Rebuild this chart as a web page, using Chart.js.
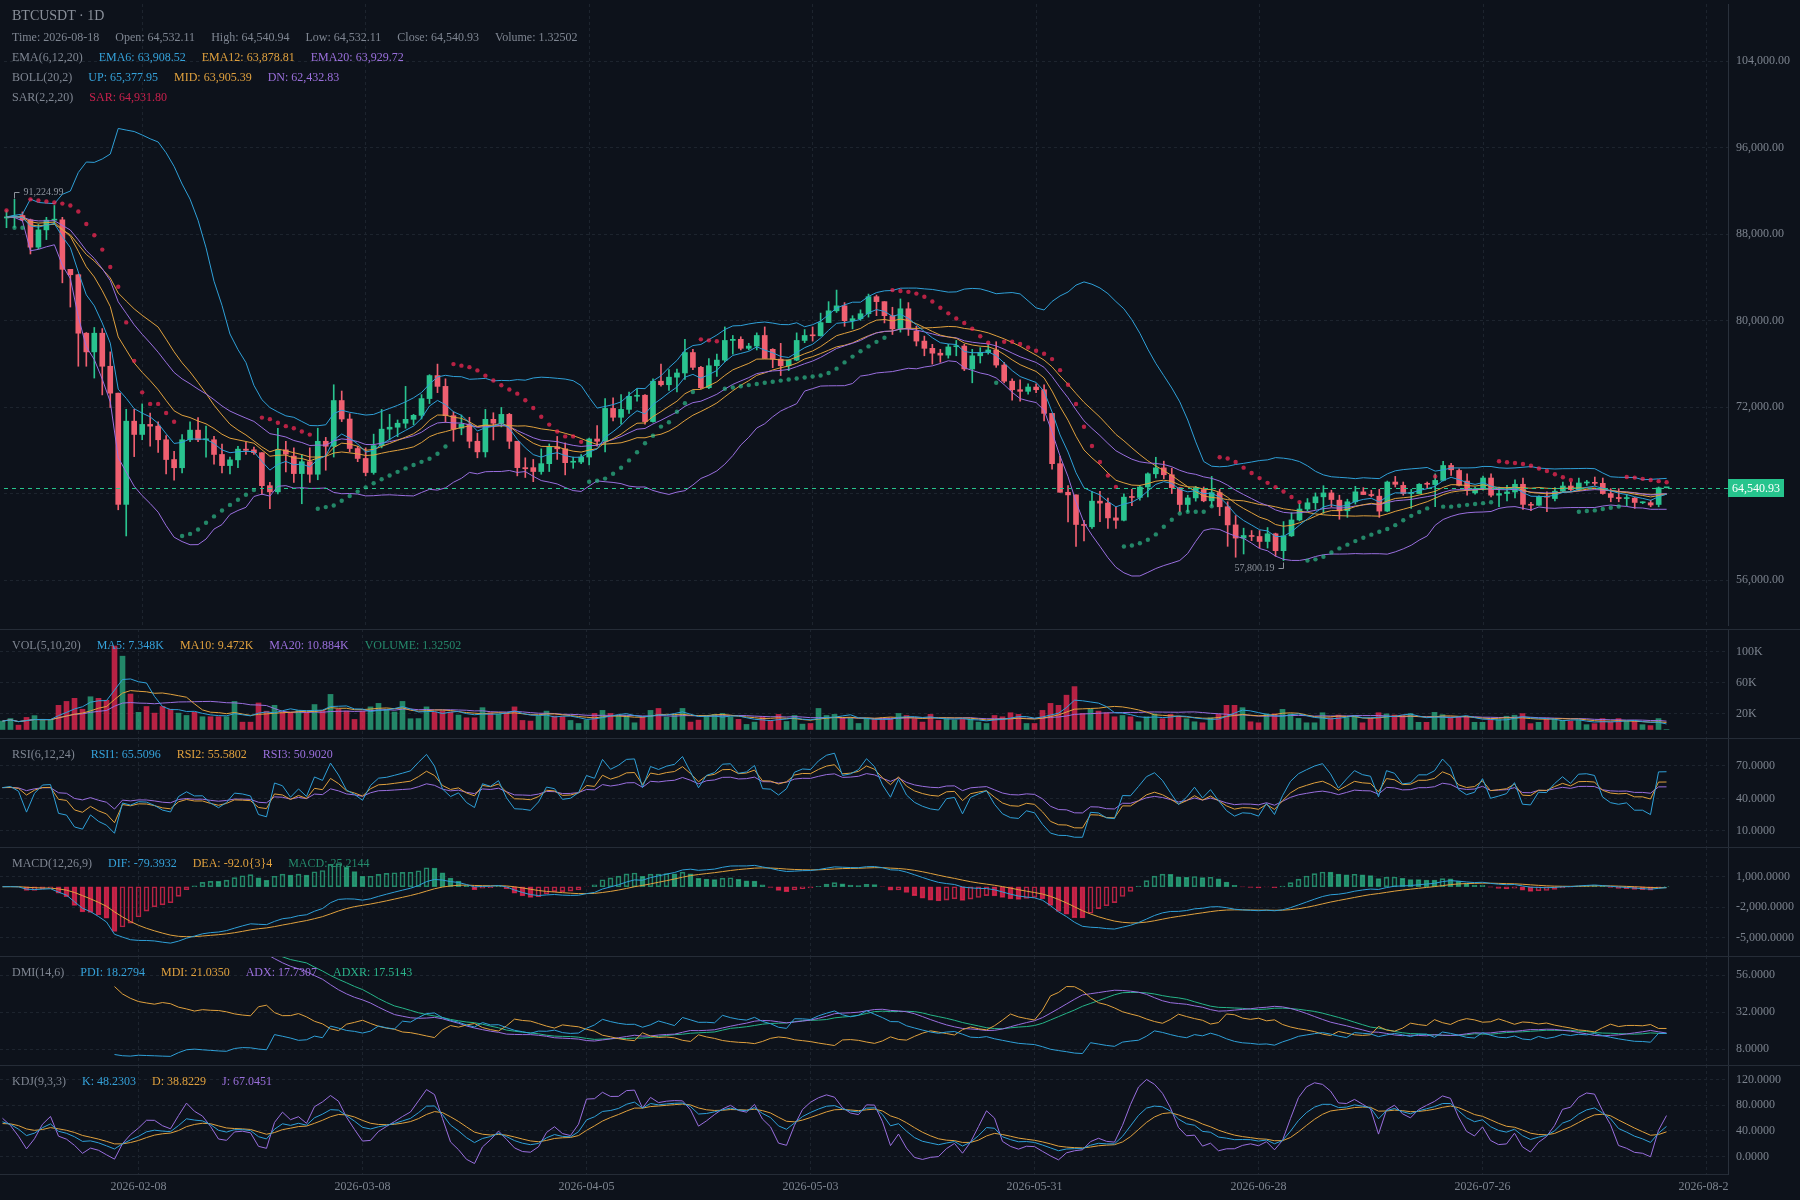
<!DOCTYPE html>
<html>
<head>
<meta charset="utf-8">
<title>BTCUSDT · 1D</title>
<script src="https://cdn.jsdelivr.net/npm/chart.js@4.4.1/dist/chart.umd.min.js"></script>
<style>
  html, body { margin: 0; padding: 0; background: #0d121b; }
  #wrap { position: relative; width: 1800px; height: 1200px; overflow: hidden; background: #0d121b; font-family: "Liberation Serif", serif; }
  canvas { position: absolute; left: 0; }
  .sep { position: absolute; left: 0; width: 1800px; height: 1px; background: #252c37; }
  .lg { position: absolute; left: 12px; height: 20px; line-height: 20px; font-size: 12px; color: #7f8692; white-space: nowrap; }
  .lg span { margin-right: 16px; }
  .b { color: #35a2da; } .o { color: #e0a13e; } .p { color: #9b70dd; } .r { color: #c9214d; } .g { color: #25896b; } .t { color: #2ab58b; }
</style>
</head>
<body>
<div id="wrap">
  <canvas id="cMain" width="1800" height="629" style="top:0"></canvas>
  <canvas id="cVol" width="1800" height="109" style="top:629px"></canvas>
  <canvas id="cRsi" width="1800" height="109" style="top:738px"></canvas>
  <canvas id="cMacd" width="1800" height="109" style="top:847px"></canvas>
  <canvas id="cDmi" width="1800" height="109" style="top:956px"></canvas>
  <canvas id="cKdj" width="1800" height="135" style="top:1065px"></canvas>

  <div class="sep" style="top:629px"></div>
  <div class="sep" style="top:738px"></div>
  <div class="sep" style="top:847px"></div>
  <div class="sep" style="top:956px"></div>
  <div class="sep" style="top:1065px"></div>
  <div class="sep" style="top:1174px;width:1728px"></div>

  <div class="lg" style="top:6px;font-size:14px;color:#8a909a">BTCUSDT · 1D</div>
  <div class="lg" style="top:27px"><span>Time: 2026-08-18</span><span>Open: 64,532.11</span><span>High: 64,540.94</span><span>Low: 64,532.11</span><span>Close: 64,540.93</span><span>Volume: 1.32502</span></div>
  <div class="lg" style="top:47px"><span>EMA(6,12,20)</span><span class="b">EMA6: 63,908.52</span><span class="o">EMA12: 63,878.81</span><span class="p">EMA20: 63,929.72</span></div>
  <div class="lg" style="top:67px"><span>BOLL(20,2)</span><span class="b">UP: 65,377.95</span><span class="o">MID: 63,905.39</span><span class="p">DN: 62,432.83</span></div>
  <div class="lg" style="top:87px"><span>SAR(2,2,20)</span><span class="r">SAR: 64,931.80</span></div>

  <div class="lg" style="top:635px"><span>VOL(5,10,20)</span><span class="b">MA5: 7.348K</span><span class="o">MA10: 9.472K</span><span class="p">MA20: 10.884K</span><span class="g">VOLUME: 1.32502</span></div>
  <div class="lg" style="top:744px"><span>RSI(6,12,24)</span><span class="b">RSI1: 65.5096</span><span class="o">RSI2: 55.5802</span><span class="p">RSI3: 50.9020</span></div>
  <div class="lg" style="top:853px"><span>MACD(12,26,9)</span><span class="b">DIF: -79.3932</span><span class="o">DEA: -92.0{3}4</span><span class="g">MACD: 25.2144</span></div>
  <div class="lg" style="top:962px"><span>DMI(14,6)</span><span class="b">PDI: 18.2794</span><span class="o">MDI: 21.0350</span><span class="p">ADX: 17.7307</span><span class="t">ADXR: 17.5143</span></div>
  <div class="lg" style="top:1071px"><span>KDJ(9,3,3)</span><span class="b">K: 48.2303</span><span class="o">D: 38.8229</span><span class="p">J: 67.0451</span></div>
</div>

<script>
// daily candles, first one is 2026-01-22
const startDay = '2026-01-22';
const dayCount = 216;

const opens = [
  89500, 89600, 89730, 89330, 86800, 88400, 89300, 89330, 84750, 84250,
  78840, 77110, 78840, 75780, 73290, 63000, 70700, 69470, 70400, 70240,
  68980, 67150, 66390, 68980, 69870, 68980, 68980, 67620, 66590, 67120,
  68110, 68050, 67780, 64730, 64160, 68050, 67470, 65850, 66950, 65790,
  68840, 68380, 72610, 70900, 68170, 67250, 65950, 68440, 69960, 70140,
  70510, 70870, 71240, 72790, 74920, 73920, 71210, 70050, 70420, 68840,
  67860, 70870, 70510, 71330, 68840, 66400, 66400, 66040, 66770, 68320,
  68140, 66900, 66920, 67380, 69050, 68840, 71880, 71060, 71790, 73000,
  73100, 70660, 74400, 74070, 74770, 75160, 77050, 75680, 73800, 75830,
  76350, 78170, 78270, 77440, 77650, 78630, 77350, 76440, 75830, 76350,
  78170, 78660, 78600, 79820, 80910, 81370, 80000, 80180, 80640, 82220,
  81760, 80460, 79240, 81100, 79030, 78110, 77440, 76990, 76810, 77590,
  77650, 75530, 76750, 77050, 77290, 75890, 74400, 73610, 73460, 73860,
  73610, 71420, 66770, 64120, 63880, 61140, 60930, 63300, 63120, 61750,
  61530, 63700, 63640, 64610, 65830, 66380, 65740, 64550, 62990, 63600,
  64370, 63330, 64090, 62780, 61100, 59880, 60060, 60030, 59570, 60280,
  58720, 60090, 61560, 62570, 63150, 63700, 64060, 63390, 62410, 63240,
  64160, 63880, 63760, 62380, 65070, 64760, 64000, 64000, 64920, 64830,
  65220, 66600, 66140, 65160, 64060, 64400, 65440, 63850, 64000, 64150,
  64860, 63000, 62920, 63700, 63540, 64220, 64700, 64370, 64980, 65010,
  64950, 64000, 63640, 63540, 63580, 63150, 63150, 62990, 64532.11
];
const highs = [
  90200, 91224.99, 90060, 89400, 88900, 89560, 90660, 89560, 84750, 84300,
  78900, 79370, 79270, 77110, 73300, 71800, 71800, 72300, 71460, 70640,
  69370, 67920, 69470, 70640, 71030, 70240, 69300, 68580, 67380, 68380,
  68740, 68300, 67800, 65050, 70040, 68840, 68230, 67620, 68230, 70050,
  69200, 74070, 73490, 71390, 68380, 68230, 69500, 71790, 71330, 70810,
  73920, 71330, 73160, 75000, 75980, 74620, 71570, 71270, 71060, 69600,
  71790, 71480, 71970, 71420, 68840, 67310, 67160, 68140, 68590, 69290,
  68690, 67380, 67620, 69140, 70300, 72790, 72850, 73160, 73400, 73700,
  73160, 74620, 75980, 75470, 75530, 78270, 77350, 75770, 76500, 76900,
  79420, 78630, 78510, 77900, 78870, 79420, 77410, 77900, 76380, 78870,
  79180, 79420, 80700, 81760, 82830, 81670, 80460, 81000, 82460, 82370,
  81760, 81240, 82010, 81670, 79480, 78570, 77810, 77350, 77810, 78170,
  77810, 77350, 77500, 77810, 78050, 76140, 74620, 74530, 74160, 74160,
  74070, 71420, 67470, 64730, 63880, 61530, 64180, 64210, 63580, 62760,
  63970, 64400, 64760, 65920, 67360, 67000, 66350, 64550, 63850, 64670,
  64610, 65590, 64400, 63240, 61960, 60800, 60580, 60580, 60860, 60340,
  61410, 62230, 63090, 63540, 64060, 64730, 64310, 63850, 63480, 64670,
  64550, 64310, 64400, 65160, 65590, 65070, 64400, 64920, 65070, 65830,
  66990, 66810, 66290, 65830, 64610, 65620, 65830, 64610, 64760, 65280,
  65440, 63180, 63790, 64160, 64550, 65070, 65070, 65440, 65220, 65530,
  65440, 64460, 64460, 63910, 63640, 63240, 63390, 64610, 64540.94
];
const lows = [
  88600, 88630, 89230, 86170, 86640, 87500, 88900, 83500, 81260, 75780,
  75780, 74690, 73130, 71960, 62500, 60080, 67420, 68980, 68380, 67800,
  65820, 65250, 65920, 68800, 68800, 67380, 66720, 65920, 65820, 66390,
  67620, 67620, 63900, 62600, 63980, 66000, 65030, 63060, 65030, 65280,
  66160, 67380, 70660, 67860, 66950, 65640, 65790, 68230, 68960, 69260,
  70050, 70360, 70900, 72330, 73340, 70600, 68840, 69440, 68230, 67310,
  67380, 68960, 70170, 68170, 65640, 65490, 65100, 65790, 66040, 67160,
  65730, 66340, 66770, 66650, 68380, 67860, 70720, 70420, 71420, 72550,
  70420, 70600, 73950, 73550, 73400, 74560, 75470, 73700, 73700, 74830,
  76200, 76900, 77290, 77290, 77290, 76500, 75650, 74920, 75380, 76290,
  77960, 78110, 78570, 79820, 80760, 79480, 79240, 80030, 80330, 80460,
  79790, 78720, 78940, 78630, 77660, 76750, 75980, 76140, 76530, 76750,
  75380, 74250, 76080, 76900, 75680, 74250, 72640, 72550, 73190, 73340,
  70720, 66250, 64120, 61380, 59100, 59630, 60780, 61390, 60780, 60780,
  61470, 62870, 63390, 63700, 65440, 65380, 64000, 62320, 62320, 63300,
  63240, 62840, 61960, 59120, 58110, 58410, 59640, 58960, 58960, 58200,
  57800.19, 60030, 61470, 62380, 62540, 62170, 62780, 61620, 61800, 63030,
  63910, 63700, 61800, 62320, 64610, 63850, 62630, 63990, 64460, 62790,
  65160, 65680, 64700, 63850, 63940, 64310, 63700, 62780, 63330, 63610,
  62540, 62420, 62910, 62320, 63330, 64160, 64220, 64250, 64760, 64760,
  63940, 63240, 63240, 62870, 62630, 63060, 62780, 62780, 64532.11
];
const closes = [
  89600, 89700, 89330, 86800, 88400, 89300, 89350, 84750, 84250, 78840,
  77110, 78840, 75780, 73290, 63000, 70700, 69470, 70400, 70240, 68980,
  67150, 66390, 68980, 69870, 68980, 69000, 67620, 66590, 67120, 68110,
  68000, 67780, 64730, 64160, 68050, 67650, 65850, 66950, 65790, 68840,
  68380, 72610, 70900, 68170, 67250, 65950, 68440, 69960, 70140, 70510,
  70870, 71240, 72790, 74920, 73920, 71210, 69960, 70420, 68840, 67860,
  70870, 70510, 71330, 68840, 66400, 66300, 66040, 66770, 68320, 68140,
  66860, 66950, 67380, 69050, 68840, 71880, 71060, 71790, 73000, 73100,
  70660, 74400, 74070, 74770, 75160, 77050, 75680, 73800, 75830, 76350,
  78170, 78270, 77440, 77650, 78630, 76500, 76440, 75830, 76350, 78170,
  78630, 78600, 79820, 80910, 81370, 80000, 80180, 80640, 82220, 81760,
  80460, 79240, 81100, 79240, 78110, 77440, 76990, 76810, 77570, 77650,
  75530, 76750, 77050, 77290, 75890, 74400, 73610, 73460, 73860, 73610,
  71420, 66770, 64120, 63880, 61140, 61050, 63300, 63120, 61750, 61530,
  63670, 63640, 64610, 65830, 66380, 65740, 64550, 62990, 63600, 64550,
  63330, 64090, 62780, 61100, 59880, 60120, 60030, 59570, 60280, 58720,
  60090, 61560, 62570, 63150, 63700, 64060, 63450, 62410, 63240, 64160,
  63910, 63820, 62380, 65070, 64860, 64000, 64090, 64860, 64860, 65220,
  66600, 66200, 64760, 64310, 64460, 65440, 63850, 64000, 64150, 64860,
  63000, 62920, 63700, 63670, 64220, 64700, 64370, 64980, 65010, 64950,
  64000, 63640, 63540, 63580, 63180, 63180, 62940, 64532.11, 64540.93
];
const volumes = [
  10800, 14000, 5600, 15500, 17800, 11700, 13000, 31000, 36000, 40000,
  26000, 42000, 40000, 37500, 107000, 94000, 45500, 22000, 29500, 21000,
  29500, 26000, 21000, 18000, 22000, 16400, 16400, 16400, 16400, 36000,
  9400, 9400, 34000, 23500, 31000, 22500, 21500, 24500, 21500, 32000,
  24500, 45000, 26000, 23600, 12900, 23600, 29000, 33500, 26000, 22400,
  36000, 13800, 14000, 29000, 22400, 23600, 22400, 18500, 15000, 15000,
  28000, 21500, 19400, 21500, 29000, 11600, 10800, 17200, 23600, 17200,
  16500, 11600, 7700, 12000, 20600, 24500, 20600, 18000, 18000, 8600,
  16300, 24500, 27000, 16000, 18500, 27000, 9500, 12000, 18000, 19400,
  20600, 16000, 13000, 6500, 9500, 16300, 11600, 19400, 10300, 18000,
  6900, 7700, 27000, 18000, 19400, 15000, 15000, 7700, 14200, 13000,
  15000, 15000, 20600, 18000, 13800, 9500, 19400, 11600, 13800, 12000,
  13000, 13000, 9500, 7700, 18000, 16300, 21500, 19400, 7700, 7700,
  24500, 33500, 31000, 44000, 55000, 20600, 26000, 23600, 21500, 16300,
  18000, 16300, 9900, 16300, 20000, 13800, 19400, 17200, 13800, 9900,
  8600, 15000, 19400, 31000, 31000, 28000, 9900, 8600, 20000, 20000,
  25800, 20000, 14200, 8600, 8600, 21500, 15000, 18500, 15000, 18000,
  8600, 15000, 21500, 20000, 18500, 18400, 20400, 9200, 9200, 22000,
  19000, 16000, 16000, 16000, 9200, 9200, 14000, 12700, 17000, 18300,
  20400, 7500, 9200, 14800, 13500, 11800, 10500, 11800, 6200, 7500,
  14000, 9200, 14000, 10500, 10500, 6200, 5000, 14000, 1.32502
];

const tickDates = ['2026-02-08', '2026-03-08', '2026-04-05', '2026-05-03', '2026-05-31', '2026-06-28', '2026-07-26', '2026-08-23'];
const priceTicks = [56000, 64000, 72000, 80000, 88000, 96000, 104000];
const volTicks = [20000, 60000, 100000];
const rsiTicks = [10, 40, 70];
const macdTicks = [-5000, -2000, 1000];
const dmiTicks = [8, 32, 56];
const kdjTicks = [0, 40, 80, 120];

// ---- look
const UP = '#29c38f', DOWN = '#ef5f70';
const UP_DIM = 'rgba(45,192,142,0.68)', DOWN_DIM = 'rgba(249,40,85,0.72)';
const BLUE = '#2fa0d8', ORANGE = '#e0a13e', PURPLE = '#9a6fdf', TEAL = '#26b589';
const GRID = '#1d242e', AXIS = '#2a313c', TXT = '#7c838e', MARK = '#8d939c';
const PRICE_GREEN = '#26c48d';

Chart.defaults.font.family = '"Liberation Serif", serif';
Chart.defaults.font.size = 12;
Chart.defaults.color = TXT;

const N = closes.length;
const idx = closes.map((_, i) => i);
const t0 = Date.parse(startDay + 'T00:00:00Z');
const dates = Array.from({ length: dayCount }, (_, i) => new Date(t0 + i * 864e5).toISOString().slice(0, 10));
const tickIdx = tickDates.map(d => dates.indexOf(d));

// ---- indicators from the candles
function sma(arr, n) {
  return arr.map((_, i) => {
    const s = Math.max(0, i - n + 1);
    let t = 0;
    for (let k = s; k <= i; k++) t += arr[k];
    return t / (i - s + 1);
  });
}
function ema(arr, n) {
  let e = arr[0];
  return arr.map((v, i) => (e = i === 0 ? v : (2 * v + (n - 1) * e) / (n + 1)));
}

const ema6 = ema(closes, 6), ema12 = ema(closes, 12), ema20 = ema(closes, 20);

const bollMid = sma(closes, 20);
const bollUp = [], bollDn = [];
closes.forEach((_, i) => {
  const s = Math.max(0, i - 19);
  let v = 0;
  for (let k = s; k <= i; k++) v += (closes[k] - bollMid[i]) ** 2;
  const sd = Math.sqrt(v / (i - s + 1));
  bollUp.push(bollMid[i] + 2 * sd);
  bollDn.push(bollMid[i] - 2 * sd);
});

const sar = [], sarUp = [];
(function () {
  let up = false, af = 0.02, ep = lows[0], s = highs[0];
  for (let i = 0; i < N; i++) {
    if (i > 0) {
      s = s + af * (ep - s);
      if (up) {
        s = Math.min(s, lows[i - 1], lows[Math.max(0, i - 2)]);
        if (lows[i] < s) { up = false; s = ep; ep = lows[i]; af = 0.02; }
        else if (highs[i] > ep) { ep = highs[i]; af = Math.min(af + 0.02, 0.2); }
      } else {
        s = Math.max(s, highs[i - 1], highs[Math.max(0, i - 2)]);
        if (highs[i] > s) { up = true; s = ep; ep = highs[i]; af = 0.02; }
        else if (lows[i] < ep) { ep = lows[i]; af = Math.min(af + 0.02, 0.2); }
      }
    }
    sar.push(s);
    sarUp.push(up);
  }
})();

const volMa5 = sma(volumes, 5), volMa10 = sma(volumes, 10), volMa20 = sma(volumes, 20);

// smoothed RSI, starting from a neutral 50
function rsi(n) {
  const m = Math.min(n, N - 1);
  let seed = 0;
  for (let k = 1; k <= m; k++) seed += Math.abs(closes[k] - closes[k - 1]);
  seed = seed / m / 2;
  let a = seed, b = seed;
  return closes.map((c, i) => {
    if (i > 0) {
      const d = c - closes[i - 1];
      a = (Math.max(d, 0) + (n - 1) * a) / n;
      b = (Math.max(-d, 0) + (n - 1) * b) / n;
    }
    return a / (a + b) * 100;
  });
}
const rsi1 = rsi(6), rsi2 = rsi(12), rsi3 = rsi(24);

const e12 = ema(closes, 12), e26 = ema(closes, 26);
const dif = e12.map((v, i) => v - e26[i]);
const dea = ema(dif, 9);
const macd = dif.map((v, i) => (v - dea[i]) * 2);

// DMI(14,6), Wilder smoothing; values only once their window is full
const pdi = new Array(N).fill(null), mdi = new Array(N).fill(null);
const adx = new Array(N).fill(null), adxr = new Array(N).fill(null);
(function () {
  const n = 14, mmP = 6;
  let mtr = 0, mp = 0, mm = 0, dxSum = 0, ax = 0;
  for (let i = 1; i < N; i++) {
    const pc = closes[i - 1];
    const tr = Math.max(highs[i] - lows[i], Math.abs(highs[i] - pc), Math.abs(pc - lows[i]));
    const hd = highs[i] - highs[i - 1], ld = lows[i - 1] - lows[i];
    const h = hd > 0 && hd > ld ? hd : 0;
    const l = ld > 0 && ld > hd ? ld : 0;
    if (i <= n) { mtr += tr; mp += h; mm += l; }
    else { mtr = mtr - mtr / n + tr; mp = mp - mp / n + h; mm = mm - mm / n + l; }
    if (i < n) continue;
    const p = mtr ? mp * 100 / mtr : 0, m = mtr ? mm * 100 / mtr : 0;
    pdi[i] = p; mdi[i] = m;
    const dx = p + m ? Math.abs(m - p) / (m + p) * 100 : 0;
    if (i < 2 * n - 1) { dxSum += dx; continue; }
    if (i === 2 * n - 1) { dxSum += dx; ax = dxSum / n; }
    else ax = (ax * (n - 1) + dx) / n;
    adx[i] = ax;
    if (i >= 2 * n + mmP - 2) adxr[i] = (ax + adx[i - (mmP - 1)]) / 2;
  }
})();

const kLine = [], dLine = [], jLine = [];
(function () {
  let k = 50, d = 50;
  idx.forEach(i => {
    const s = Math.max(0, i - 8);
    const hh = Math.max(...highs.slice(s, i + 1)), ll = Math.min(...lows.slice(s, i + 1));
    const rsv = hh === ll ? 0 : (closes[i] - ll) / (hh - ll) * 100;
    k = (2 * k + rsv) / 3;
    d = (2 * d + k) / 3;
    kLine.push(k); dLine.push(d); jLine.push(3 * k - 2 * d);
  });
})();

// ---- helpers
const fmt = (v, dp) => v.toLocaleString('en-US', { minimumFractionDigits: dp, maximumFractionDigits: dp });
const pts = vals => vals.map((v, i) => ({ x: i, y: v }));
const line = (vals, color) => ({
  type: 'line', data: pts(vals), borderColor: color, borderWidth: 1,
  pointRadius: 0, tension: 0, fill: false, order: 2
});
const bars = (vals, colors, extra) => Object.assign({
  type: 'bar', data: pts(vals), backgroundColor: colors, barThickness: 5,
  grouped: false, order: 10
}, extra || {});

function xAxis(labelSpace) {
  return {
    type: 'linear', min: -0.3125, max: dayCount - 0.3125, offset: false,
    afterBuildTicks: s => { s.ticks = tickIdx.map(v => ({ value: v })); },
    afterFit: s => { s.height = labelSpace; s.paddingLeft = 0; s.paddingRight = 0; },
    ticks: { display: false },
    grid: { color: GRID, drawTicks: false, offset: false },
    border: { display: false, dash: [3, 3] }
  };
}
function yAxis(min, max, ticks, label) {
  return {
    position: 'right', min, max,
    afterFit: s => { s.width = 72; s.paddingTop = 0; s.paddingBottom = 0; },
    afterBuildTicks: s => { s.ticks = ticks.map(v => ({ value: v })); },
    ticks: { color: TXT, padding: 8, autoSkip: false, callback: label },
    grid: { color: GRID, drawTicks: false },
    border: { display: true, color: AXIS, dash: [3, 3] }
  };
}
function pane(id, datasets, y, plugins, labelSpace) {
  return new Chart(document.getElementById(id), {
    type: 'bar',
    data: { datasets },
    options: {
      responsive: false, animation: false, events: [],
      layout: { padding: 0 },
      plugins: { legend: { display: false }, tooltip: { enabled: false } },
      scales: { x: xAxis(labelSpace || 0), y }
    },
    plugins: plugins || []
  });
}

// ---- plugins
const priceLine = {
  id: 'priceLine',
  afterDatasetsDraw(chart) {
    const { ctx, chartArea, scales: { y } } = chart;
    const py = Math.round(y.getPixelForValue(closes[N - 1])) + 0.5;
    ctx.save();
    ctx.strokeStyle = PRICE_GREEN;
    ctx.lineWidth = 1;
    ctx.setLineDash([4, 4]);
    ctx.beginPath();
    ctx.moveTo(chartArea.left, py);
    ctx.lineTo(chartArea.right, py);
    ctx.stroke();
    ctx.restore();
  },
  afterDraw(chart) {
    const { ctx, chartArea, scales: { y } } = chart;
    const py = Math.round(y.getPixelForValue(closes[N - 1]));
    const text = fmt(closes[N - 1], 2);
    ctx.save();
    ctx.font = '12px "Liberation Serif"';
    const w = ctx.measureText(text).width + 8;
    ctx.fillStyle = PRICE_GREEN;
    ctx.fillRect(chartArea.right, py - 9, w, 18);
    ctx.fillStyle = '#ffffff';
    ctx.textAlign = 'left';
    ctx.textBaseline = 'middle';
    ctx.fillText(text, chartArea.right + 4, py + 0.5);
    ctx.restore();
  }
};

const extremes = {
  id: 'extremes',
  afterDatasetsDraw(chart) {
    const { ctx, scales: { x, y } } = chart;
    const hi = highs.indexOf(Math.max(...highs));
    const lo = lows.indexOf(Math.min(...lows));
    ctx.save();
    ctx.strokeStyle = MARK;
    ctx.fillStyle = MARK;
    ctx.lineWidth = 1;
    ctx.font = '10px "Liberation Serif"';
    ctx.textBaseline = 'middle';
    let px = Math.floor(x.getPixelForValue(hi)) + 0.5;
    let py = Math.round(y.getPixelForValue(highs[hi])) + 0.5;
    ctx.beginPath();
    ctx.moveTo(px, py - 1); ctx.lineTo(px, py - 7); ctx.lineTo(px + 5, py - 7);
    ctx.stroke();
    ctx.textAlign = 'left';
    ctx.fillText(fmt(highs[hi], 2), px + 9, py - 7);
    px = Math.floor(x.getPixelForValue(lo)) + 0.5;
    py = Math.round(y.getPixelForValue(lows[lo])) + 0.5;
    ctx.beginPath();
    ctx.moveTo(px, py + 1); ctx.lineTo(px, py + 7); ctx.lineTo(px - 5, py + 7);
    ctx.stroke();
    ctx.textAlign = 'right';
    ctx.fillText(fmt(lows[lo], 2), px - 9, py + 7);
    ctx.restore();
  }
};

const dateAxis = {
  id: 'dateAxis',
  afterDraw(chart) {
    const { ctx, chartArea, scales: { x } } = chart;
    ctx.save();
    ctx.beginPath();
    ctx.rect(0, chartArea.bottom, chartArea.right, chart.height - chartArea.bottom);
    ctx.clip();
    ctx.fillStyle = TXT;
    ctx.font = '12px "Liberation Serif"';
    ctx.textAlign = 'center';
    ctx.textBaseline = 'middle';
    tickIdx.forEach((t, k) => ctx.fillText(tickDates[k], x.getPixelForValue(t), chartArea.bottom + 13));
    ctx.restore();
  }
};

// ---- main pane
const candleColors = idx.map(i => closes[i] >= opens[i] ? UP : DOWN);
pane('cMain', [
  { type: 'bar', data: idx.map(i => ({ x: i, y: [lows[i], highs[i]] })), backgroundColor: candleColors, barThickness: 1, grouped: false, order: 11 },
  { type: 'bar', data: idx.map(i => ({ x: i, y: [opens[i], closes[i]] })), backgroundColor: candleColors, barThickness: 5, minBarLength: 1, grouped: false, order: 10 },
  line(ema6, BLUE), line(ema12, ORANGE), line(ema20, PURPLE),
  line(bollUp, BLUE), line(bollMid, ORANGE), line(bollDn, PURPLE),
  {
    type: 'line', data: pts(sar), showLine: false, order: 1,
    pointRadius: 2.2, pointBorderWidth: 0,
    pointBackgroundColor: sarUp.map(u => u ? UP_DIM : DOWN_DIM)
  }
], yAxis(51840, 109300, priceTicks, v => Math.abs(v - closes[N - 1]) < 1000 ? '' : fmt(v, 2)), [priceLine, extremes]);

// ---- volume
const volColors = idx.map(i => closes[i] >= opens[i] ? UP_DIM : DOWN_DIM);
pane('cVol', [
  bars(volumes, volColors),
  line(volMa5, BLUE), line(volMa10, ORANGE), line(volMa20, PURPLE)
], yAxis(-10900, 128850, volTicks, v => (v / 1000) + 'K'));

// ---- RSI
pane('cRsi', [
  line(rsi1, BLUE), line(rsi2, ORANGE), line(rsi3, PURPLE)
], yAxis(-4.8, 95.8, rsiTicks, v => fmt(v, 4)));

// ---- MACD
const macdColor = macd.map(v => v > 0 ? UP_DIM : DOWN_DIM);
const macdFill = macd.map((v, i) => (i > 0 && macd[i - 1] < v) ? 'rgba(0,0,0,0)' : macdColor[i]);
pane('cMacd', [
  bars(macd, macdFill, { borderColor: macdColor, borderWidth: 1, borderSkipped: false }),
  line(dif, BLUE), line(dea, ORANGE)
], yAxis(-6800, 3900, macdTicks, v => fmt(v, 4)));

// ---- DMI
pane('cDmi', [
  line(pdi, BLUE), line(mdi, ORANGE), line(adx, PURPLE), line(adxr, TEAL)
], yAxis(-2.2, 68.3, dmiTicks, v => fmt(v, 4)));

// ---- KDJ + date axis
pane('cKdj', [
  line(kLine, BLUE), line(dLine, ORANGE), line(jLine, PURPLE)
], yAxis(-27.6, 143.2, kdjTicks, v => fmt(v, 4)), [dateAxis], 26);
</script>
</body>
</html>
